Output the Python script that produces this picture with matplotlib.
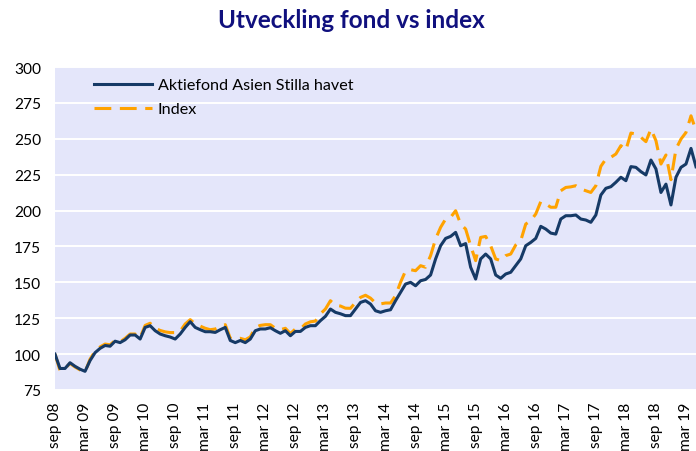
import matplotlib
matplotlib.use("Agg")
import matplotlib.pyplot as plt
import numpy as np

title = "Utveckling fond vs index"
series_names = ["Aktiefond Asien Stilla havet", "Index"]

fund = [
    100, 90, 90, 94, 91.5, 89.5, 88, 95.5, 101, 104,
    106, 105.5, 109, 108, 110, 113.3, 113.3, 110.5, 118.6, 119.8,
    116.3, 114, 112.8, 111.9, 110.5, 114, 118.6, 122.6, 118.6, 117,
    115.6, 115.6, 115.1, 117, 118.6, 109.5, 108, 109.5, 108, 110.5,
    116.3, 117.5, 117.5, 118.4, 116.3, 114.5, 116.3, 112.8, 115.8, 115.8,
    118.6, 119.8, 119.8, 123.3, 126.3, 131.4, 129.1, 128.1, 126.8, 126.8,
    131.4, 136, 137.2, 134.9, 130.2, 129.1, 130.2, 130.9, 137.2, 143,
    148.8, 150, 147.6, 151.1, 152, 155.1, 166.3, 175.5, 180.6, 182,
    184.8, 175.5, 177, 160.5, 152.3, 166.3, 169.7, 166.3, 155.1, 152.8,
    155.8, 157, 161.6, 166.3, 175.5, 177.8, 180.6, 189, 187.1, 184.3,
    183.6, 194.1, 196.4, 196.4, 196.9, 194.1, 193.4, 191.8, 196.9, 210.8,
    215.5, 216.6, 219.7, 223.2, 220.8, 230.6, 230.1, 227.1, 224.8, 235.2,
    229, 212.6, 218.4, 203.9, 223.2, 230.1, 232.4, 243.3, 230.5,
]

index = [
    100, 88.5, 90, 93.5, 91, 89, 87.5, 96.5, 102, 105,
    107, 106.5, 109.5, 108.5, 111, 114, 114, 111.5, 120, 121.5,
    118, 116.5, 115.5, 115, 115, 116, 121, 124, 121, 119.5,
    118, 117, 117.5, 119, 120.5, 111, 110.5, 111, 110, 112,
    118.6, 120, 120.5, 120.5, 118, 117, 118, 114.3, 117.5, 117.5,
    121, 122.5, 123, 128, 131.4, 137.2, 134, 133.5, 132, 131.9,
    136, 139.5, 141, 139, 135.6, 135, 135.6, 135.6, 140.7, 150,
    158, 158.8, 158.1, 161.6, 160.5, 168.6, 180.2, 188.3, 194.1, 195.3,
    199.9, 190.6, 187.1, 175.5, 165.1, 181.3, 182, 175.5, 166.3, 165.1,
    168.6, 169.7, 176, 179, 190.6, 192.9, 197.6, 206.2, 204.6, 202.3,
    202.3, 213.8, 216.1, 216.5, 217.3, 215, 213.8, 212.6, 217.3, 230.8,
    235.9, 237.1, 239.4, 245.2, 242.2, 254, 253.3, 251, 248, 256.8,
    248.7, 232.4, 238.7, 221.5, 242.9, 249.8, 254.4, 266, 255.6,
]

tick_labels = [
    "sep 08", "mar 09", "sep 09", "mar 10", "sep 10", "mar 11", "sep 11",
    "mar 12", "sep 12", "mar 13", "sep 13", "mar 14", "sep 14", "mar 15",
    "sep 15", "mar 16", "sep 16", "mar 17", "sep 17", "mar 18", "sep 18",
    "mar 19",
]
y_ticks = [75, 100, 125, 150, 175, 200, 225, 250, 275, 300]

plt.rcParams["font.family"] = ["Lato", "DejaVu Sans"]

fig = plt.figure(figsize=(6.96, 4.52), dpi=100)
ax = fig.add_axes([55 / 696, 1 - 391 / 452, 1 - 55 / 696, (391 - 68) / 452])
ax.set_facecolor("#E4E6FA")

x = np.arange(len(fund))
ax.plot(x, fund, color="#163A66", lw=2.2, label=series_names[0],
        solid_joinstyle="round", zorder=3)
ax.plot(x, index, color="#FFA200", lw=2.2, label=series_names[1],
        dashes=(5.5, 2.8), zorder=2)

ax.set_xlim(0, len(fund) - 1)
ax.set_ylim(75, 300)
ax.set_yticks(y_ticks)
ax.set_xticks(np.arange(0, 6 * len(tick_labels), 6))
ax.set_xticklabels(tick_labels, rotation=90, fontsize=11.2, va="top", ha="center")
ax.tick_params(axis="y", length=0, pad=10, labelsize=11.2)
ax.tick_params(axis="x", length=0, pad=8.5)
ax.grid(axis="y", color="white", lw=1.4)
ax.set_axisbelow(True)
for s in ax.spines.values():
    s.set_visible(False)

leg = ax.legend(loc="upper left", bbox_to_anchor=(94 / 696, 1 - 79 / 452),
                bbox_transform=fig.transFigure, frameon=False, fontsize=11.6,
                handlelength=3.6, handletextpad=0.35, borderpad=0,
                borderaxespad=0, labelspacing=0.6)

fig.text(351 / 696, 1 - 21 / 452, title, ha="center", va="center",
         fontsize=17.5, fontweight="bold", color="#10107E")

fig.savefig("out.png", dpi=100)
